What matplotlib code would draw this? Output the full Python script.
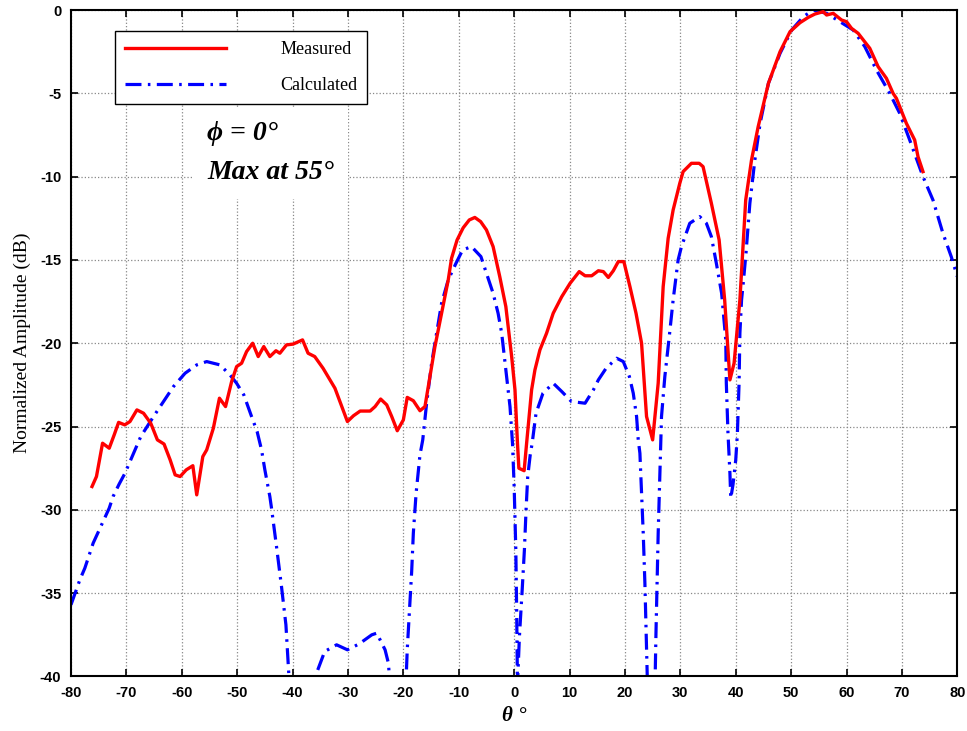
import matplotlib
matplotlib.use('Agg')
import matplotlib.pyplot as plt
import numpy as np

# measured pattern (red)
meas_theta = [-76.2, -75.4, -74.3, -73.1, -72.2, -71.4, -70.3, -69.35, -68.1, -66.9,
              -65.6, -64.4, -63.2, -62.1, -61.2, -60.3, -59.2, -58.0, -57.3, -56.2,
              -55.5, -54.3, -53.2, -52.1, -51.0, -50.1, -49.2, -48.3, -47.2, -46.2,
              -45.2, -44.1, -43.0, -42.3, -41.1, -39.9, -38.2, -37.2, -36.0, -34.5,
              -32.35, -30.1, -29.0, -27.8, -26.0, -25.1, -24.1, -23.0, -22.1, -21.1,
              -20.0, -19.3, -18.2, -17.0, -16.1, -15.3, -14.3, -13.1, -11.9, -11.3,
              -10.3, -9.2, -8.1, -7.1, -6.05, -5.0, -3.8, -2.6, -1.5, -0.45,
              0.15, 0.6, 0.85, 1.8, 2.25, 3.15, 3.75, 4.65, 5.85, 7.05,
              8.6, 10.1, 11.75, 12.8, 14.0, 15.2, 16.1, 17.0, 17.9, 18.8,
              19.8, 20.9, 22.0, 23.0, 23.9, 25.0, 26.0, 26.9, 27.8, 28.7,
              29.9, 30.5, 32.0, 33.4, 34.1, 35.6, 37.0, 38.0, 38.95, 39.7,
              40.75, 41.8, 42.85, 44.05, 45.9, 48.0, 49.8, 51.6, 53.1, 54.3,
              55.8, 56.4, 57.6, 59.1, 60.0, 60.9, 62.1, 64.2, 65.7, 67.2,
              68.4, 69.0, 70.8, 72.3, 72.9, 73.8]
meas_db = [-28.6, -28.0, -26.0, -26.3, -25.5, -24.75, -24.9, -24.7, -24.0, -24.2,
           -24.8, -25.8, -26.05, -27.0, -27.9, -28.0, -27.6, -27.35, -29.1, -26.8,
           -26.4, -25.1, -23.3, -23.8, -22.3, -21.4, -21.2, -20.5, -20.0, -20.8,
           -20.2, -20.8, -20.45, -20.6, -20.1, -20.05, -19.8, -20.6, -20.8, -21.5,
           -22.7, -24.7, -24.35, -24.07, -24.07, -23.8, -23.35, -23.7, -24.4, -25.25,
           -24.6, -23.25, -23.45, -24.05, -23.8, -22.2, -20.2, -18.2, -16.2, -14.9,
           -13.8, -13.07, -12.6, -12.45, -12.7, -13.2, -14.2, -16.0, -17.8, -20.8,
           -22.8, -26.0, -27.5, -27.65, -26.0, -22.8, -21.6, -20.4, -19.4, -18.2,
           -17.2, -16.4, -15.7, -15.95, -15.95, -15.65, -15.7, -16.05, -15.65, -15.1,
           -15.1, -16.6, -18.2, -20.0, -24.4, -25.8, -22.4, -16.6, -13.7, -12.0,
           -10.4, -9.7, -9.2, -9.2, -9.4, -11.6, -13.8, -17.4, -22.2, -21.2,
           -17.4, -11.4, -9.0, -7.0, -4.4, -2.5, -1.3, -0.76, -0.44, -0.24,
           -0.1, -0.3, -0.2, -0.6, -0.7, -1.1, -1.4, -2.3, -3.4, -4.1,
           -5.0, -5.3, -6.8, -7.8, -8.8, -9.7]

# calculated pattern (blue); nulls below -40 dB fall outside the axes
calc_theta = [-80.0, -78.4, -77.5, -76.0, -74.9, -73.1, -72.4, -71.3, -70.25, -68.45,
              -67.4, -65.1, -63.6, -61.5, -59.4, -57.3, -55.5, -53.1, -51.3, -50.1,
              -48.8, -47.4, -46.4, -45.6, -45.0, -44.1, -43.8, -42.9, -42.0, -41.2,
              -40.8, -40.3, -38.2, -36.2, -35.9, -34.2, -32.05, -30.1, -28.0, -25.7,
              -24.8, -23.3, -22.7, -22.3, -21.0, -19.6, -19.3, -18.9, -18.5, -18.2,
              -17.7, -17.0, -16.5, -15.8, -14.9, -14.0, -13.1, -11.9, -10.5, -9.3,
              -7.7, -6.0, -5.0, -3.8, -2.9, -2.25, -1.5, -0.75, -0.3, 0.0,
              0.3, 0.45, 0.6, 0.95, 1.45, 1.85, 2.15, 2.45, 2.9, 3.25,
              3.95, 5.2, 7.05, 8.6, 10.35, 12.8, 14.3, 15.2, 16.6, 18.5,
              19.7, 20.8, 21.5, 22.1, 22.4, 22.7, 23.0, 23.3, 23.6, 23.9,
              24.1, 24.8, 25.4, 25.6, 25.85, 26.0, 26.2, 26.4, 26.6, 27.2,
              28.0, 28.7, 29.6, 30.2, 31.7, 33.5, 34.7, 35.6, 36.5, 37.45,
              38.2, 38.3, 38.6, 38.95, 39.1, 39.5, 40.0, 40.3, 40.6, 40.75,
              41.05, 41.35, 41.85, 42.55, 43.45, 44.4, 45.9, 48.0, 50.1, 52.2,
              54.0, 56.4, 58.8, 61.2, 63.3, 65.4, 67.8, 69.6, 71.4, 73.8,
              75.6, 77.4, 78.9, 80.0]
calc_db = [-35.7, -34.2, -33.5, -32.0, -31.2, -29.9, -29.2, -28.45, -27.8, -26.4,
           -25.6, -24.4, -23.65, -22.6, -21.8, -21.3, -21.1, -21.3, -21.9, -22.4,
           -23.1, -24.4, -25.3, -26.4, -27.6, -29.2, -29.9, -32.2, -34.6, -36.9,
           -39.2, -42.0, -50.0, -42.0, -40.0, -38.5, -38.1, -38.4, -38.05, -37.5,
           -37.4, -38.4, -39.2, -41.0, -50.0, -41.0, -38.4, -36.0, -33.7, -31.4,
           -29.0, -26.7, -25.8, -23.6, -21.2, -19.4, -17.6, -16.2, -15.2, -14.4,
           -14.2, -14.8, -15.8, -17.0, -18.2, -19.4, -21.6, -23.8, -26.0, -28.6,
           -32.4, -36.0, -40.5, -37.6, -34.8, -32.4, -30.0, -28.0, -26.7, -26.0,
           -24.2, -23.0, -22.4, -22.9, -23.5, -23.6, -22.8, -22.2, -21.5, -20.9,
           -21.1, -22.0, -23.0, -24.4, -25.8, -26.6, -29.0, -31.4, -34.4, -38.4,
           -41.0, -50.0, -41.0, -37.4, -33.6, -31.4, -29.0, -26.6, -24.4, -22.0,
           -19.6, -17.4, -15.0, -14.2, -12.8, -12.4, -12.8, -13.6, -15.2, -17.0,
           -19.8, -22.4, -25.4, -27.8, -29.3, -28.5, -27.0, -25.4, -22.4, -19.4,
           -17.4, -16.4, -14.6, -11.6, -9.0, -6.8, -4.4, -2.6, -1.2, -0.4,
           0.0, -0.2, -0.7, -1.2, -2.2, -3.6, -5.0, -6.2, -7.8, -10.0,
           -11.4, -13.4, -14.8, -16.0]

x_ticks = np.arange(-80, 81, 10)
y_ticks = np.arange(-40, 1, 5)

serif = ['Liberation Serif', 'DejaVu Serif']
tick_font = {'family': 'Liberation Sans', 'weight': 'bold', 'size': 10.5}

fig = plt.figure(figsize=(9.67, 7.31), dpi=100)
ax = fig.add_axes([0.0734, 0.0746, 0.9166, 0.9117])

ax.plot(meas_theta, meas_db, color='red', lw=2.4, label='Measured', zorder=3)
ax.plot(calc_theta, calc_db, color='blue', lw=2.3, dashes=[5.0, 2.0, 0.8, 2.0],
        label='Calculated', zorder=2)

ax.set_xlim(-80, 80)
ax.set_ylim(-40, 0)
ax.set_xticks(x_ticks)
ax.set_yticks(y_ticks)
ax.set_xticklabels([str(v) for v in x_ticks], fontdict=tick_font)
ax.set_yticklabels([str(v) for v in y_ticks], fontdict=tick_font)
ax.tick_params(direction='in', length=5, width=1.2, top=True, right=True, pad=7)
ax.grid(True, linestyle=':', color='#888888', lw=0.9)
for s in ax.spines.values():
    s.set_linewidth(1.5)

ax.set_xlabel('θ °', family=serif, style='italic', weight='bold', fontsize=15, labelpad=4)
ax.set_ylabel('Normalized Amplitude (dB)', family=serif, fontsize=14, labelpad=6)

leg = ax.legend(loc='upper left', bbox_to_anchor=(0.0496, 0.9685), borderaxespad=0,
                prop={'family': serif, 'size': 13}, handlelength=5.6, handletextpad=3.0,
                labelspacing=1.05, borderpad=0.55, fancybox=False, edgecolor='black',
                framealpha=1)
leg.get_frame().set_linewidth(1.0)

ax.text(0.154, 0.786, 'ϕ = 0°\nMax at 55°', transform=ax.transAxes, family=serif,
        style='italic', weight='bold', fontsize=20, linespacing=1.75, va='center',
        bbox=dict(facecolor='white', edgecolor='none', pad=10))

plt.savefig('out.png', dpi=100)
